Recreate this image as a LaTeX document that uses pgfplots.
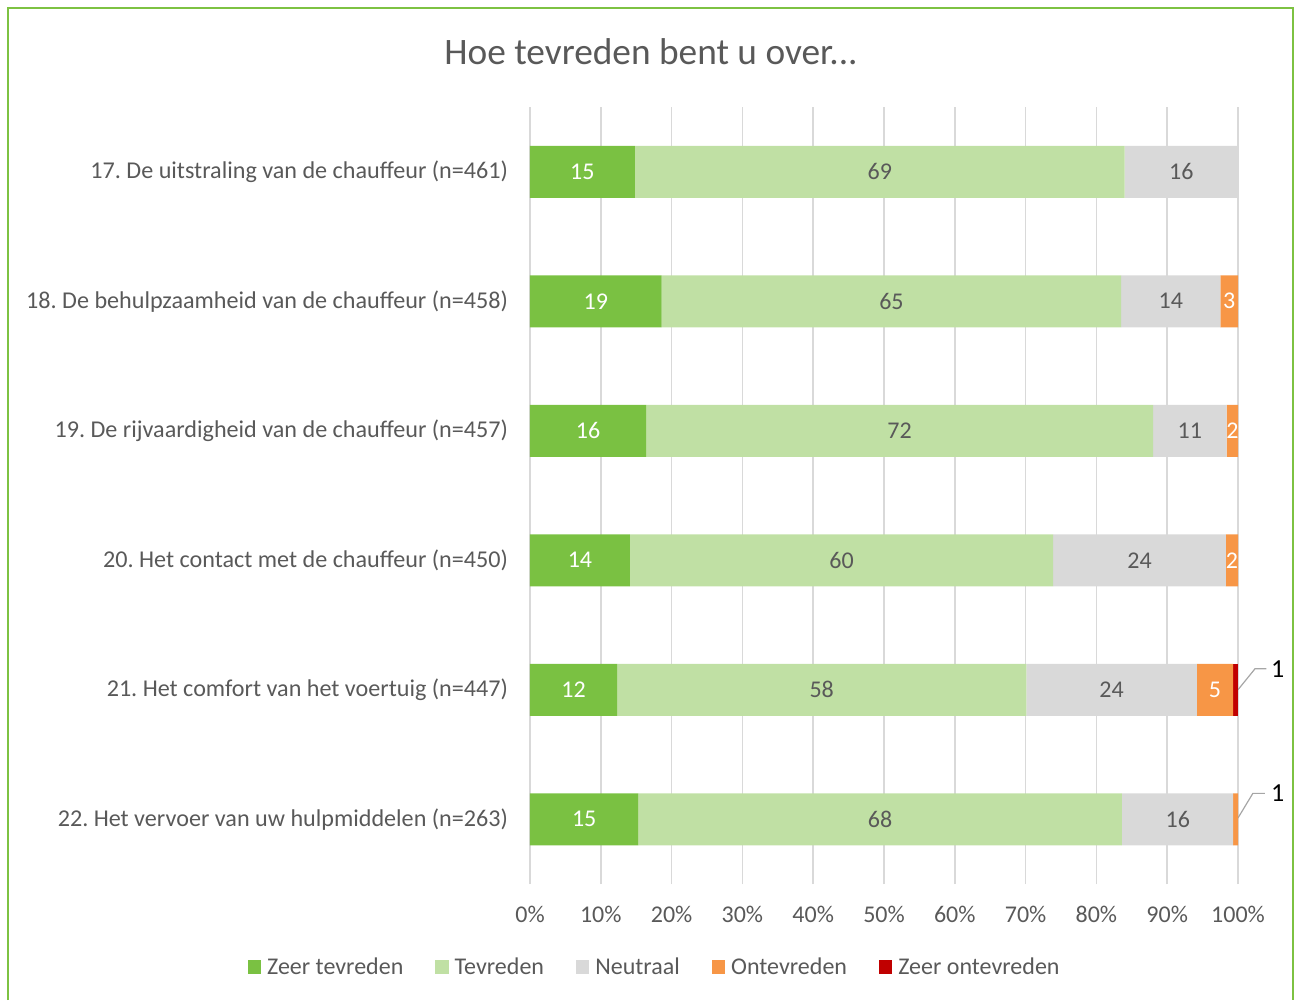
\documentclass[border=0pt]{standalone}
\usepackage{pgfplots}
\pgfplotsset{compat=1.18}
\usepackage{pgfplotstable}
\usepackage{fontspec}
\setmainfont{Carlito}
\frenchspacing
\definecolor{czt}{RGB}{122,193,66}
\definecolor{ct}{RGB}{192,224,164}
\definecolor{cn}{RGB}{217,217,217}
\definecolor{co}{RGB}{247,150,70}
\definecolor{czo}{RGB}{192,0,0}
\definecolor{txt}{RGB}{89,89,89}
\definecolor{border}{RGB}{125,194,66}
\definecolor{leader}{RGB}{166,166,166}
\pgfplotstableread{
y zt t n o zo
5 14.8 69.2 16.0 0 0
4 18.6 64.9 14.0 2.5 0
3 16.4 71.6 10.4 1.6 0
2 14.1 59.8 24.4 1.7 0
1 12.3 57.8 24.1 5.1 0.7
0 15.3 68.3 15.7 0.7 0
}\data
% label positions (segment centres) and texts
\pgfplotstableread{
x y lab
7.4 5 15
9.3 4 19
8.2 3 16
7.05 2 14
6.15 1 12
7.65 0 15
98.75 4 3
99.2 3 2
99.15 2 2
96.75 1 5
}\whitelabs
\pgfplotstableread{
x y lab
49.4 5 69
51.05 4 65
52.2 3 72
44.0 2 60
41.2 1 58
49.45 0 68
92.0 5 16
90.5 4 14
93.2 3 11
86.1 2 24
82.15 1 24
91.5 0 16
}\graylabs
\pgfplotstableread{
x y lab
105.6 1.162 1
105.6 0.2 1
}\outlabs
\pgfplotsset{
  commonaxis/.style={
    at={(397.5pt,87pt)}, anchor=south west,
    scale only axis, width=531pt, height=582.75pt,
    xmin=0, xmax=100, ymin=-0.5, ymax=5.5,
    enlarge x limits=false, enlarge y limits=false,
    clip=false,
  }
}
\begin{document}
\begin{tikzpicture}
\path[use as bounding box] (0,0) rectangle (975pt,750pt);
\draw[border, line width=1.2pt] (6pt,0) -- (6pt,744pt) -- (969.75pt,744pt) -- (969.75pt,0);
\node[text=txt, font=\fontsize{28}{33}\selectfont] at (488.25pt,711pt) {Hoe tevreden bent u over...};
\begin{axis}[
  commonaxis,
  xbar stacked, bar width=39pt,
  axis line style={draw=none},
  major tick length=0pt,
  xmajorgrids, grid style={cn, line width=1.1pt},
  xtick={0,10,...,100},
  xticklabels={0\%,10\%,20\%,30\%,40\%,50\%,60\%,70\%,80\%,90\%,100\%},
  ytick={0,1,2,3,4,5},
  yticklabels={22. Het vervoer van uw hulpmiddelen (n=263),21. Het comfort van het voertuig (n=447),20. Het contact met de chauffeur (n=450),19. De rijvaardigheid van de chauffeur (n=457),18. De behulpzaamheid van de chauffeur (n=458),17. De uitstraling van de chauffeur (n=461)},
  ticklabel style={text=txt, font=\fontsize{18}{21.6}\selectfont},
  yticklabel style={xshift=-13pt, font=\fontsize{18.1}{21.6}\selectfont},
  xticklabel style={yshift=-13pt},
  legend columns=5,
  legend style={at={(rel axis cs:0.1766,-0.1068)}, anchor=center, draw=none, fill=none,
    font=\fontsize{18}{21.6}\selectfont, text=txt,
    /tikz/every even column/.append style={column sep=22pt},
    /tikz/every odd column/.append style={column sep=2.5pt}},
  legend image code/.code={\fill[#1] (0pt,-5pt) rectangle (10pt,5pt);},
]
\addplot[fill=czt, draw=none] table[x=zt, y=y] {\data};
\addplot[fill=ct, draw=none] table[x=t, y=y] {\data};
\addplot[fill=cn, draw=none] table[x=n, y=y] {\data};
\addplot[fill=co, draw=none] table[x=o, y=y] {\data};
\addplot[fill=czo, draw=none] table[x=zo, y=y] {\data};
\legend{Zeer tevreden,Tevreden,Neutraal,Ontevreden,Zeer ontevreden}
\draw[leader, line width=0.9pt] (axis cs:100,1.0) -- (axis cs:102.4,1.162) -- (axis cs:104,1.162);
\draw[leader, line width=0.9pt] (axis cs:100,0.01) -- (axis cs:102.1,0.2) -- (axis cs:103.8,0.2);
\end{axis}
\begin{axis}[
  commonaxis,
  axis lines=none,
  nodes near coords, point meta=explicit symbolic,
  nodes near coords align=center,
  every node near coord/.append style={anchor=center, font=\fontsize{18}{21.6}\selectfont},
]
\addplot[only marks, mark size=0pt, mark options={draw=none,fill=none},
  every node near coord/.append style={text=white}]
  table[x=x, y=y, meta=lab] {\whitelabs};
\addplot[only marks, mark size=0pt, mark options={draw=none,fill=none},
  every node near coord/.append style={text=txt}]
  table[x=x, y=y, meta=lab] {\graylabs};
\addplot[only marks, mark size=0pt, mark options={draw=none,fill=none},
  every node near coord/.append style={text=black, font=\fontsize{19.5}{22}\selectfont}]
  table[x=x, y=y, meta=lab] {\outlabs};
\end{axis}
\end{tikzpicture}
\end{document}
